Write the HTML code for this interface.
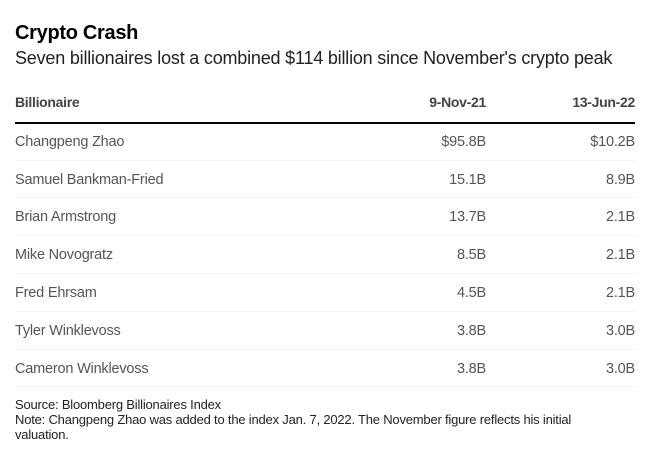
<!DOCTYPE html>
<html><head><meta charset="utf-8"><style>
body{margin:0;background:#fff;width:665px;height:460px;position:relative;font-family:"Liberation Sans",Arial,sans-serif;overflow:hidden}
.a{position:absolute;white-space:nowrap}
.t{left:15px;top:22px;font-size:20px;font-weight:bold;color:#000;letter-spacing:-0.3px}
.s{left:15px;top:48px;font-size:18px;color:#222;letter-spacing:-0.2px}
.h{top:94px;font-size:14px;font-weight:bold;color:#444;letter-spacing:-0.3px}
.r{font-size:14.5px;color:#555;letter-spacing:-0.2px}
.c1{right:179px;text-align:right}
.c2{right:30px;text-align:right}
.n{left:15px}
.line{position:absolute;left:15px;width:620px;height:2px;background:#000;top:122px}
.sep{position:absolute;left:15px;width:620px;height:1px;background:#f3f3f3}
.f{left:15px;font-size:13px;color:#222;letter-spacing:-0.2px}
</style></head><body>
<div class="a t">Crypto Crash</div>
<div class="a s">Seven billionaires lost a combined $114 billion since November's crypto peak</div>
<div class="a h n">Billionaire</div>
<div class="a h c1">9-Nov-21</div>
<div class="a h c2">13-Jun-22</div>
<div class="line"></div>

<div class="a r n" style="top:134px">Changpeng Zhao</div><div class="a r c1" style="top:134px">$95.8B</div><div class="a r c2" style="top:134px">$10.2B</div>
<div class="sep" style="top:160px"></div>
<div class="a r n" style="top:172px">Samuel Bankman-Fried</div><div class="a r c1" style="top:172px">15.1B</div><div class="a r c2" style="top:172px">8.9B</div>
<div class="sep" style="top:197px"></div>
<div class="a r n" style="top:209px">Brian Armstrong</div><div class="a r c1" style="top:209px">13.7B</div><div class="a r c2" style="top:209px">2.1B</div>
<div class="sep" style="top:235px"></div>
<div class="a r n" style="top:247px">Mike Novogratz</div><div class="a r c1" style="top:247px">8.5B</div><div class="a r c2" style="top:247px">2.1B</div>
<div class="sep" style="top:273px"></div>
<div class="a r n" style="top:285px">Fred Ehrsam</div><div class="a r c1" style="top:285px">4.5B</div><div class="a r c2" style="top:285px">2.1B</div>
<div class="sep" style="top:311px"></div>
<div class="a r n" style="top:323px">Tyler Winklevoss</div><div class="a r c1" style="top:323px">3.8B</div><div class="a r c2" style="top:323px">3.0B</div>
<div class="sep" style="top:349px"></div>
<div class="a r n" style="top:361px">Cameron Winklevoss</div><div class="a r c1" style="top:361px">3.8B</div><div class="a r c2" style="top:361px">3.0B</div>
<div class="sep" style="top:386px"></div>

<div class="a f" style="top:397px">Source: Bloomberg Billionaires Index</div>
<div class="a f" style="top:412px">Note: Changpeng Zhao was added to the index Jan. 7, 2022. The November figure reflects his initial</div>
<div class="a f" style="top:427px">valuation.</div>
</body></html>
